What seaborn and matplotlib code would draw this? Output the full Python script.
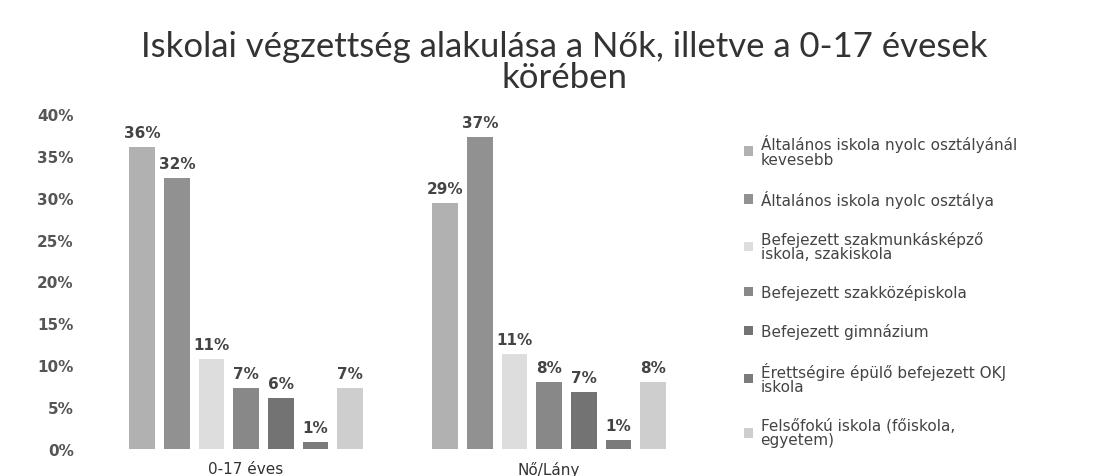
import pandas as pd
import numpy as np
import matplotlib
matplotlib.use('Agg')
import matplotlib.pyplot as plt
import seaborn as sns
from matplotlib.patches import Patch

sns.set_theme(style='white')
plt.rcParams['font.family'] = ['DejaVu Sans']
body = 'DejaVu Sans'

groups = ['0-17 éves', 'Nő/Lány']
levels = [
    'Általános iskola nyolc osztályánál\nkevesebb',
    'Általános iskola nyolc osztálya',
    'Befejezett szakmunkásképző\niskola, szakiskola',
    'Befejezett szakközépiskola',
    'Befejezett gimnázium',
    'Érettségire épülő befejezett OKJ\niskola',
    'Felsőfokú iskola (főiskola,\negyetem)',
]
vals_0_17 = [36.1, 32.4, 10.7, 7.3, 6.1, 0.8, 7.3]
vals_no = [29.4, 37.2, 11.3, 8.0, 6.8, 1.0, 8.0]
grays = ['#b1b1b1', '#919191', '#dddddd', '#888888', '#737373', '#7b7b7b', '#cecece']

df = pd.DataFrame({
    'csoport': [groups[0]] * len(levels) + [groups[1]] * len(levels),
    'vegzettseg': levels + levels,
    'arany': vals_0_17 + vals_no,
})

fig = plt.figure(figsize=(11.06, 4.77), dpi=100)
ax = fig.add_axes([0.0855, 0.057, 0.548, 0.702])

sns.barplot(data=df, x='csoport', y='arany', hue='vegzettseg', hue_order=levels,
            palette=grays, width=0.80, gap=0.26, legend=False, ax=ax,
            edgecolor='none')

for cont in ax.containers:
    ax.bar_label(cont, fmt='%.0f%%', padding=5, fontsize=11, fontweight='bold',
                 color='#444444', fontfamily=body)

ax.set_ylim(0, 40)
ax.set_xlim(-0.5, 1.5)
ax.set_yticks(np.arange(0, 41, 5))
ax.set_yticklabels([f'{t}%' for t in range(0, 41, 5)], fontfamily=body,
                   fontweight='bold', fontsize=11, color='#555555')
ax.set_xticks([0, 1])
ax.set_xticklabels(groups, fontfamily=body, fontsize=11, color='#333333')
ax.tick_params(axis='y', pad=9)
ax.tick_params(axis='x', pad=3)
ax.set_xlabel('')
ax.set_ylabel('')
sns.despine(ax=ax, left=True, bottom=True)
ax.grid(False)

handles = [Patch(facecolor=c, edgecolor='none') for c in grays]
leg = fig.legend(handles, levels, loc='upper left', bbox_to_anchor=(0.66, 0.745),
                 frameon=False, prop={'family': body, 'size': 11}, labelcolor='#444444',
                 handlelength=0.6, handleheight=0.6, handletextpad=0.5,
                 labelspacing=1.5)
for t in leg.get_texts():
    t.set_linespacing(0.95)

fig.suptitle('Iskolai végzettség alakulása a Nők, illetve a 0-17 évesek\nkörében',
             x=0.51, y=0.935, fontsize=25, color='#333333', fontfamily='Lato',
             linespacing=0.95)

fig.savefig('out.png', dpi=100)
